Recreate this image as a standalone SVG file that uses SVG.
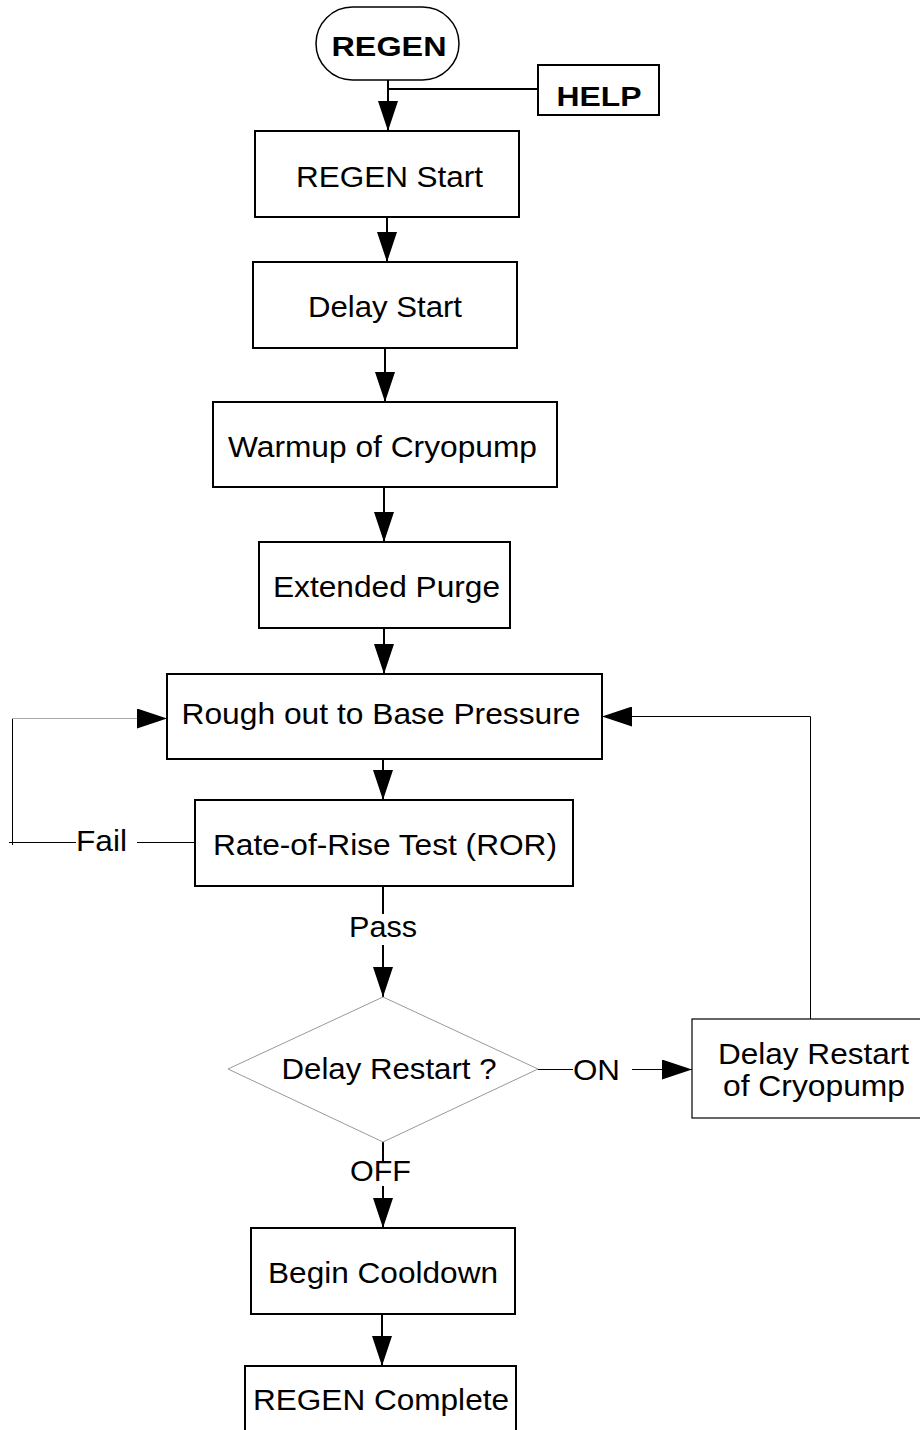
<svg xmlns="http://www.w3.org/2000/svg" width="920" height="1430" viewBox="0 0 920 1430">
<style>
.box{fill:#fff;stroke:#000;stroke-width:2}
.thin{fill:#fff;stroke:#000;stroke-width:1.5}
.dia{fill:#fff;stroke:#999;stroke-width:1}
.t{font-family:"Liberation Sans",Arial,sans-serif;font-size:30px;fill:#000;text-anchor:middle}
.b{font-weight:bold;font-size:27px}
.c{fill:none;stroke:#000;stroke-width:2}
.c1{fill:none;stroke:#000;stroke-width:1}
.cg{fill:none;stroke:#aaa;stroke-width:1}
</style>
<defs>
<marker id="ah" markerUnits="userSpaceOnUse" markerWidth="30" markerHeight="20" refX="30" refY="10" orient="auto">
<path d="M0,0 L30,10 L0,20 z" fill="#000"/>
</marker>
</defs>
<rect width="920" height="1430" fill="#fff"/>
<g id="connectors">
<line class="c" x1="388" y1="80" x2="388" y2="131" marker-end="url(#ah)"/>
<line class="c" x1="388" y1="89" x2="538" y2="89"/>
<line class="c" x1="387" y1="217" x2="387" y2="262" marker-end="url(#ah)"/>
<line class="c" x1="385" y1="348" x2="385" y2="402" marker-end="url(#ah)"/>
<line class="c" x1="384" y1="487" x2="384" y2="542" marker-end="url(#ah)"/>
<line class="c" x1="384" y1="628" x2="384" y2="674" marker-end="url(#ah)"/>
<line class="c" x1="383" y1="759" x2="383" y2="800" marker-end="url(#ah)"/>
<line class="c" x1="383" y1="886" x2="383" y2="914"/>
<line class="c" x1="383" y1="945" x2="383" y2="997" marker-end="url(#ah)"/>
<line class="c" x1="383" y1="1142" x2="383" y2="1163"/>
<line class="c" x1="383" y1="1186" x2="383" y2="1228" marker-end="url(#ah)"/>
<line class="c" x1="382" y1="1314" x2="382" y2="1366" marker-end="url(#ah)"/>
<polyline class="c1" points="195,842.5 137,842.5"/>
<polyline class="c1" points="76,842.5 9,842.5"/>
<polyline class="c1" points="12.5,845 12.5,718"/>
<line class="cg" x1="12" y1="718.5" x2="167" y2="718.5" marker-end="url(#ah)"/>
<line class="c1" x1="538" y1="1069.5" x2="573" y2="1069.5"/>
<line class="c1" x1="632" y1="1069.5" x2="692" y2="1069.5" marker-end="url(#ah)"/>
<polyline class="c1" points="810.5,1019 810.5,716.5 602,716.5" marker-end="url(#ah)"/>
<text class="t" x="101.5" y="851" textLength="51" lengthAdjust="spacingAndGlyphs">Fail</text>
<text class="t" x="383" y="937" textLength="68" lengthAdjust="spacingAndGlyphs">Pass</text>
<text class="t" x="596.5" y="1080" textLength="47" lengthAdjust="spacingAndGlyphs">ON</text>
<text class="t" x="380.5" y="1181" textLength="61" lengthAdjust="spacingAndGlyphs">OFF</text>
</g>
<g id="regen">
<rect class="thin" x="316" y="7" width="143" height="73" rx="36.5" ry="36.5"/>
<text class="t b" x="389" y="56" textLength="115" lengthAdjust="spacingAndGlyphs">REGEN</text>
</g>
<g id="help">
<rect class="box" x="538" y="65" width="121" height="50"/>
<text class="t b" x="599" y="106" textLength="85" lengthAdjust="spacingAndGlyphs">HELP</text>
</g>
<g id="regen-start">
<rect class="box" x="255" y="131" width="264" height="86"/>
<text class="t" x="389.5" y="187" textLength="187" lengthAdjust="spacingAndGlyphs">REGEN Start</text>
</g>
<g id="delay-start">
<rect class="box" x="253" y="262" width="264" height="86"/>
<text class="t" x="385" y="317" textLength="154" lengthAdjust="spacingAndGlyphs">Delay Start</text>
</g>
<g id="warmup">
<rect class="box" x="213" y="402" width="344" height="85"/>
<text class="t" x="382.5" y="457" textLength="309" lengthAdjust="spacingAndGlyphs">Warmup of Cryopump</text>
</g>
<g id="purge">
<rect class="box" x="259" y="542" width="251" height="86"/>
<text class="t" x="386.5" y="597" textLength="227" lengthAdjust="spacingAndGlyphs">Extended Purge</text>
</g>
<g id="rough">
<rect class="box" x="167" y="674" width="435" height="85"/>
<text class="t" x="381" y="724" textLength="399" lengthAdjust="spacingAndGlyphs">Rough out to Base Pressure</text>
</g>
<g id="ror">
<rect class="box" x="195" y="800" width="378" height="86"/>
<text class="t" x="385" y="855" textLength="344" lengthAdjust="spacingAndGlyphs">Rate-of-Rise Test (ROR)</text>
</g>
<g id="decision">
<polygon class="dia" points="383,997 538,1069 383,1142 228,1069"/>
<text class="t" x="389" y="1079" textLength="215" lengthAdjust="spacingAndGlyphs">Delay Restart ?</text>
</g>
<g id="delay-restart">
<rect class="thin" x="692" y="1019" width="240" height="99" style="stroke-width:1.2"/>
<text class="t" x="813.5" y="1064" textLength="191" lengthAdjust="spacingAndGlyphs">Delay Restart</text>
<text class="t" x="814" y="1096" textLength="182" lengthAdjust="spacingAndGlyphs">of Cryopump</text>
</g>
<g id="cooldown">
<rect class="box" x="251" y="1228" width="264" height="86"/>
<text class="t" x="383" y="1283" textLength="230" lengthAdjust="spacingAndGlyphs">Begin Cooldown</text>
</g>
<g id="complete">
<rect class="box" x="245" y="1366" width="271" height="100"/>
<text class="t" x="381" y="1410" textLength="256" lengthAdjust="spacingAndGlyphs">REGEN Complete</text>
</g>
</svg>
